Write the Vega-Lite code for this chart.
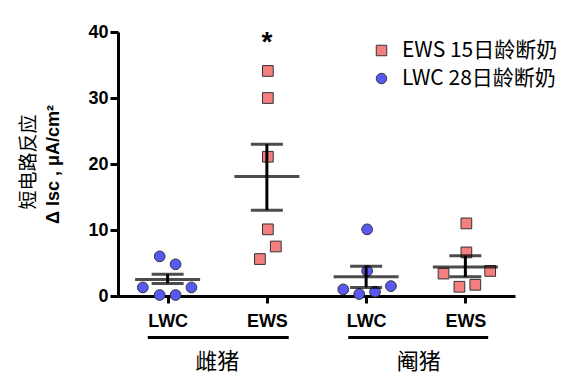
{
  "$schema": "https://vega.github.io/schema/vega-lite/v6.json",
  "width": 397,
  "height": 264,
  "autosize": {"type": "none"},
  "padding": {"left": 118, "top": 32, "right": 57, "bottom": 95},
  "background": "white",
  "config": {
    "view": {"stroke": null},
    "font": "Liberation Sans",
    "axis": {"grid": false, "domainColor": "black", "tickColor": "black", "domainWidth": 3, "tickWidth": 3, "labelColor": "black", "titleColor": "black"},
    "legend": {"title": null, "orient": "none", "legendX": 253, "legendY": 8, "padding": 0, "labelFont": "Noto Sans CJK SC", "labelFontSize": 21, "labelColor": "black", "symbolSize": 110, "rowPadding": 6, "symbolStrokeColor": "#333", "symbolStrokeWidth": 1, "labelOffset": 10}
  },
  "datasets": {
    "pts": [
      {"x": 0.92, "v": 6.0, "grp": "LWC 28日龄断奶"},
      {"x": 1.08, "v": 4.8, "grp": "LWC 28日龄断奶"},
      {"x": 0.75, "v": 1.3, "grp": "LWC 28日龄断奶"},
      {"x": 1.24, "v": 1.3, "grp": "LWC 28日龄断奶"},
      {"x": 0.92, "v": 0.15, "grp": "LWC 28日龄断奶"},
      {"x": 1.08, "v": 0.15, "grp": "LWC 28日龄断奶"},
      {"x": 2.01, "v": 34.1, "grp": "EWS 15日龄断奶"},
      {"x": 2.01, "v": 30.0, "grp": "EWS 15日龄断奶"},
      {"x": 2.01, "v": 21.1, "grp": "EWS 15日龄断奶"},
      {"x": 2.01, "v": 10.1, "grp": "EWS 15日龄断奶"},
      {"x": 2.09, "v": 7.5, "grp": "EWS 15日龄断奶"},
      {"x": 1.93, "v": 5.6, "grp": "EWS 15日龄断奶"},
      {"x": 3.01, "v": 10.1, "grp": "LWC 28日龄断奶"},
      {"x": 3.01, "v": 3.8, "grp": "LWC 28日龄断奶"},
      {"x": 2.77, "v": 1.0, "grp": "LWC 28日龄断奶"},
      {"x": 3.25, "v": 1.5, "grp": "LWC 28日龄断奶"},
      {"x": 2.93, "v": 0.3, "grp": "LWC 28日龄断奶"},
      {"x": 3.09, "v": 0.65, "grp": "LWC 28日龄断奶"},
      {"x": 4.01, "v": 11.0, "grp": "EWS 15日龄断奶"},
      {"x": 4.01, "v": 6.6, "grp": "EWS 15日龄断奶"},
      {"x": 3.78, "v": 3.4, "grp": "EWS 15日龄断奶"},
      {"x": 4.25, "v": 3.8, "grp": "EWS 15日龄断奶"},
      {"x": 3.94, "v": 1.4, "grp": "EWS 15日龄断奶"},
      {"x": 4.1, "v": 1.7, "grp": "EWS 15日龄断奶"}
    ],
    "summ": [
      {"x": 1, "mean": 2.5, "lo": 1.9, "hi": 3.3},
      {"x": 2, "mean": 18.1, "lo": 13.0, "hi": 23.0},
      {"x": 3, "mean": 2.9, "lo": 1.3, "hi": 4.5},
      {"x": 4, "mean": 4.4, "lo": 2.9, "hi": 6.1}
    ],
    "groups": [
      {"xs": 0.8, "xe": 2.22, "xm": 1.5, "label": "雌猪"},
      {"xs": 2.82, "xe": 4.23, "xm": 3.53, "label": "阉猪"}
    ]
  },
  "layer": [
    {
      "data": {"name": "pts"},
      "mark": {"type": "point", "filled": true, "stroke": "#333", "strokeWidth": 1, "opacity": 1, "size": 115},
      "encoding": {
        "x": {"field": "x", "type": "quantitative",
          "scale": {"domain": [0.5, 4.5], "nice": false, "zero": false},
          "axis": {"values": [1, 2, 3, 4], "labelExpr": "datum.value == 1 || datum.value == 3 ? 'LWC' : 'EWS'", "title": null, "tickSize": 7, "labelFontSize": 18, "labelFontWeight": "bold", "labelPadding": 9, "labelFont": "Liberation Sans"}},
        "y": {"field": "v", "type": "quantitative",
          "scale": {"domain": [0, 40], "nice": false},
          "axis": {"values": [0, 10, 20, 30, 40], "tickSize": 8, "labelFontSize": 18, "labelFontWeight": "bold", "labelPadding": 2, "labelFont": "Liberation Sans",
            "title": "Δ Isc , μA/cm²", "titleFont": "Liberation Sans", "titleFontSize": 18, "titleFontWeight": "bold", "titlePadding": 25}},
        "shape": {"field": "grp", "type": "nominal",
          "scale": {"domain": ["EWS 15日龄断奶", "LWC 28日龄断奶"], "range": ["square", "circle"]}},
        "color": {"field": "grp", "type": "nominal",
          "scale": {"domain": ["EWS 15日龄断奶", "LWC 28日龄断奶"], "range": ["#f47f7f", "#5858f2"]}}
      }
    },
    {
      "data": {"name": "summ"},
      "mark": {"type": "rule", "color": "black", "strokeWidth": 3},
      "encoding": {
        "x": {"field": "x", "type": "quantitative"},
        "y": {"field": "lo", "type": "quantitative"},
        "y2": {"field": "hi"}
      }
    },
    {
      "data": {"name": "summ"},
      "mark": {"type": "tick", "orient": "horizontal", "color": "black", "size": 65, "thickness": 3},
      "encoding": {
        "x": {"field": "x", "type": "quantitative"},
        "y": {"field": "mean", "type": "quantitative"}
      }
    },
    {
      "data": {"name": "summ"},
      "mark": {"type": "tick", "orient": "horizontal", "color": "black", "size": 32, "thickness": 3},
      "encoding": {
        "x": {"field": "x", "type": "quantitative"},
        "y": {"field": "lo", "type": "quantitative"}
      }
    },
    {
      "data": {"name": "summ"},
      "mark": {"type": "tick", "orient": "horizontal", "color": "black", "size": 32, "thickness": 3},
      "encoding": {
        "x": {"field": "x", "type": "quantitative"},
        "y": {"field": "hi", "type": "quantitative"}
      }
    },
    {
      "data": {"name": "groups"},
      "mark": {"type": "rule", "color": "black", "strokeWidth": 3, "clip": false},
      "encoding": {
        "x": {"field": "xs", "type": "quantitative"},
        "x2": {"field": "xe"},
        "y": {"datum": -6.3, "type": "quantitative"}
      }
    },
    {
      "data": {"name": "groups"},
      "mark": {"type": "text", "font": "Noto Sans CJK SC", "fontSize": 22, "color": "black", "baseline": "middle", "clip": false},
      "encoding": {
        "x": {"field": "xm", "type": "quantitative"},
        "y": {"datum": -10, "type": "quantitative"},
        "text": {"field": "label"}
      }
    },
    {
      "data": {"values": [{"x": -0.4, "y": 20.3, "t": "短电路反应"}]},
      "mark": {"type": "text", "font": "Noto Sans CJK SC", "fontSize": 19, "color": "black", "baseline": "middle", "align": "center", "angle": 270, "clip": false},
      "encoding": {
        "x": {"field": "x", "type": "quantitative"},
        "y": {"field": "y", "type": "quantitative"},
        "text": {"field": "t"}
      }
    },
    {
      "data": {"values": [{"x": 2, "y": 37.1, "t": "*"}]},
      "mark": {"type": "text", "fontSize": 28, "fontWeight": "bold", "color": "black", "baseline": "alphabetic", "font": "Liberation Sans"},
      "encoding": {
        "x": {"field": "x", "type": "quantitative"},
        "y": {"field": "y", "type": "quantitative"},
        "text": {"field": "t"}
      }
    }
  ]
}
